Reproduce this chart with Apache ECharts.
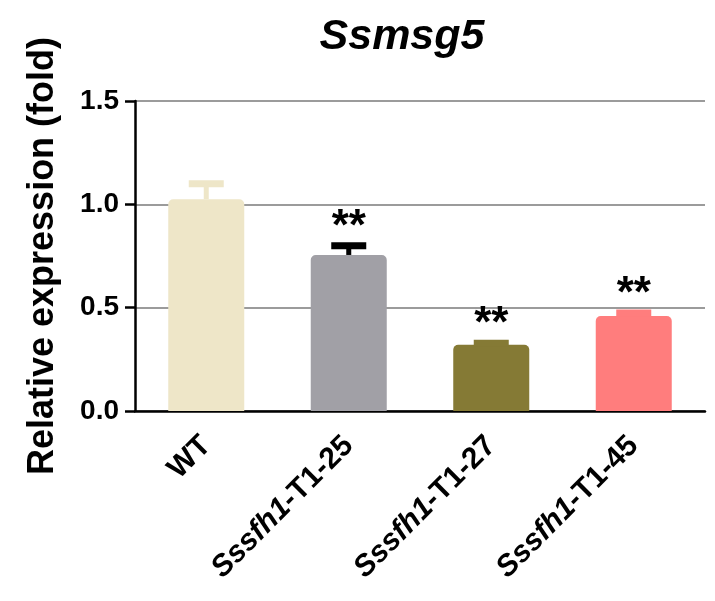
<!DOCTYPE html>
<html><head><meta charset="utf-8">
<script src="https://cdn.jsdelivr.net/npm/echarts@6/dist/echarts.min.js"></script>
<style>html,body{margin:0;padding:0;background:#fff;}#c{width:715px;height:601px;}</style>
</head><body><div id="c"></div>
<script>
var categories = ['WT', 'Sssfh1-T1-25', 'Sssfh1-T1-27', 'Sssfh1-T1-45'];
var values = [1.025, 0.755, 0.32, 0.46];
var errors = [0.075, 0.045, 0.008, 0.014];
var marks = ['', '**', '**', '**'];
var colors = ['#EEE6C8', '#A1A0A6', '#857A35', '#FF7D7D'];
var errColors = ['#EEE6C8', '#000000', '#857A35', '#FF7D7D'];
var yTicks = ['0.0', '0.5', '1.0', '1.5'];

var chart = echarts.init(document.getElementById('c'));
var FONT = 'Liberation Sans';
chart.setOption({
  animation: false,
  backgroundColor: '#fff',
  title: {
    text: 'Ssmsg5', left: 397, top: 11, textAlign: 'center',
    textStyle: { fontFamily: FONT, fontSize: 43, fontWeight: 'bold', fontStyle: 'italic', color: '#000' }
  },
  grid: { left: 135, right: 10, top: 101, bottom: 190 },
  xAxis: {
    type: 'category', data: categories,
    axisLine: { lineStyle: { color: '#000', width: 2.5 } },
    axisTick: { alignWithLabel: true, length: 10, lineStyle: { color: '#000', width: 3 } },
    axisLabel: {
      rotate: 45, margin: 30, interval: 0,
      formatter: function (v) {
        var m = v.match(/^(Sssfh1)(-.*)$/);
        return m ? '{i|' + m[1] + '}{b|' + m[2] + '}' : '{b|' + v + '}';
      },
      rich: {
        i: { fontFamily: FONT, fontSize: 30, fontWeight: 'bold', fontStyle: 'italic', color: '#000' },
        b: { fontFamily: FONT, fontSize: 30, fontWeight: 'bold', color: '#000' }
      }
    }
  },
  yAxis: {
    type: 'value', min: 0, max: 1.5, interval: 0.5,
    name: 'Relative expression (fold)', nameLocation: 'middle', nameGap: 74,
    nameTextStyle: { fontFamily: FONT, fontSize: 36, fontWeight: 'bold', color: '#000' },
    axisLine: { show: true, lineStyle: { color: '#000', width: 2.5 } },
    axisTick: { show: true, length: 10, lineStyle: { color: '#000', width: 2.5 } },
    axisLabel: {
      margin: 16, fontFamily: FONT, fontSize: 28, fontWeight: 'bold', color: '#000',
      formatter: function (v) { return yTicks[Math.round(v / 0.5)]; }
    },
    splitLine: { show: true, lineStyle: { color: '#7a7a7a', width: 1.5 } }
  },
  series: [{
    type: 'bar', barWidth: 76,
    data: values.map(function (v, i) { return { value: v, itemStyle: { color: colors[i] } }; }),
    itemStyle: { borderRadius: [5, 5, 0, 0] },
    z: 2
  }, {
    type: 'custom',
    data: values.map(function (v, i) { return [i, v, v + errors[i]]; }),
    renderItem: function (params, api) {
      var i = api.value(0);
      var base = api.coord([i, api.value(1)]);
      var top = api.coord([i, api.value(2)]);
      var x = base[0];
      var c = errColors[i];
      var children = [
        { type: 'rect', shape: { x: x - 2.5, y: top[1], width: 5, height: base[1] - top[1] }, style: { fill: c } },
        { type: 'rect', shape: { x: x - 17.5, y: top[1] - 3.5, width: 35, height: 7 }, style: { fill: c } }
      ];
      if (marks[i]) {
        children.push({ type: 'text', style: { text: marks[i], x: x, y: top[1] + 4, align: 'center', verticalAlign: 'bottom', fontFamily: FONT, fontSize: 44, fontWeight: 'bold', fill: '#000' } });
      }
      return { type: 'group', children: children };
    },
    z: 3
  }]
});
</script></body></html>
